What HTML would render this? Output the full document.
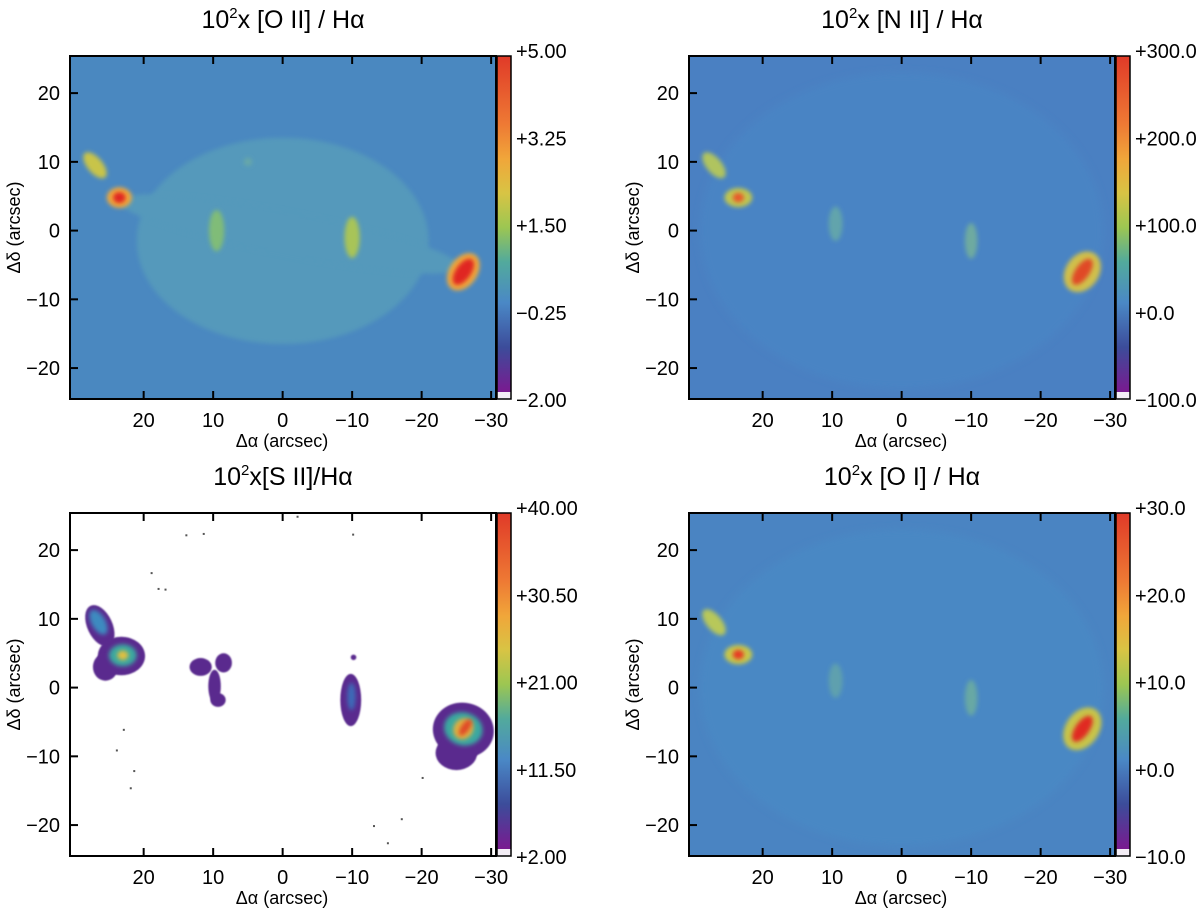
<!DOCTYPE html>
<html><head><meta charset="utf-8"><style>
body{margin:0;background:#fff;}
svg text{font-family:"Liberation Sans",Arial,sans-serif;fill:#000;}
</style></head><body>
<svg id="fig" width="1200" height="913" viewBox="0 0 1200 913" xmlns="http://www.w3.org/2000/svg">
<defs>
<linearGradient id="cmap" x1="0" y1="0" x2="0" y2="1">
<stop offset="0" stop-color="#e03a28"/><stop offset="0.2" stop-color="#ee7a34"/><stop offset="0.3" stop-color="#f0a63a"/><stop offset="0.4" stop-color="#d8c444"/><stop offset="0.5" stop-color="#9cc652"/><stop offset="0.6" stop-color="#52aa9c"/><stop offset="0.72" stop-color="#4a88c6"/><stop offset="0.85" stop-color="#3c4c9a"/><stop offset="0.98" stop-color="#7a1a90"/><stop offset="0.98" stop-color="#f4eef6"/><stop offset="1" stop-color="#f4eef6"/>
</linearGradient>
<filter id="b1" x="-50%" y="-50%" width="200%" height="200%"><feGaussianBlur stdDeviation="4"/></filter>
<filter id="b2" x="-50%" y="-50%" width="200%" height="200%"><feGaussianBlur stdDeviation="2"/></filter>
<filter id="b0" x="-50%" y="-50%" width="200%" height="200%"><feGaussianBlur stdDeviation="0.8"/></filter>
</defs>
</svg>
<script>
// ----- data -----
const panelTitles = ["[O II] / H\u03b1", "[N II] / H\u03b1", "[S II]/H\u03b1", "[O I] / H\u03b1"];
const cbarLabels = [
  ["+5.00","+3.25","+1.50","\u22120.25","\u22122.00"],
  ["+300.0","+200.0","+100.0","+0.0","\u2212100.0"],
  ["+40.00","+30.50","+21.00","+11.50","+2.00"],
  ["+30.0","+20.0","+10.0","+0.0","\u221210.0"]
];
const xTicks = [20, 10, 0, -10, -20, -30];
const yTicks = [20, 10, 0, -10, -20];
const bgColors = ["#4a88c0", "#4a80c2", "#ffffff", "#4a84c2"];
// knots: [alpha, delta, rx, ry, rot, color]
const knotsA = [[0,-1.5,21,15,0,"#5499bb"],[-1,-0.5,25,3.2,11,"#5499bb"],[27,9.5,1.1,2.3,-40,"#c8c44a"],[23.5,4.8,1.8,1.5,0,"#f0a83a"],[23.5,4.8,0.9,0.8,0,"#e02820"],
  [9.5,0,1.1,3,0,"#80bc78"],[-10,-1,1.1,3,0,"#a8c458"],[-26,-6,2.0,3,35,"#f0a83a"],[-26,-6,1.1,2.2,35,"#e02820"],[5,10,0.6,0.6,0,"#68a8a8"]];
const knotsB = [[0,0,29,23,0,"#4a84c4"],[27,9.5,1.1,2.3,-40,"#b0c45e"],[23.5,4.8,2.0,1.4,0,"#c0c650"],[23.5,4.8,0.8,0.7,0,"#e85a2a"],
  [9.5,1,1,2.5,0,"#62a4ac"],[-10,-1.5,0.9,2.6,0,"#6eaaa0"],[-26,-6,2.4,3.2,35,"#d0c04c"],[-26,-6,1.0,2.2,35,"#e04a26"]];
const knotsD = [[0,0,29,23,0,"#4a88c4"],[27,9.5,1.1,2.3,-40,"#b8c85a"],[23.5,4.8,2.0,1.4,0,"#c8c84a"],[23.5,4.8,0.8,0.7,0,"#e83a24"],
  [9.5,1,1,2.5,0,"#5ea0ae"],[-10,-1.5,0.9,2.6,0,"#68a8a4"],[-26,-6,2.4,3.4,35,"#c8c44a"],[-26,-6,1.0,2.2,35,"#e02c22"]];
// [S II] regions: [alpha, delta, rx, ry, rot, color]
const regionsC = [[26.3,9,1.8,3.2,-25,"#5a2a8e"],[23.2,4.6,3.4,2.8,0,"#5a2a8e"],[25.5,3,1.8,2,0,"#5a2a8e"],
  [11.8,3,1.6,1.3,0,"#5a2a8e"],[8.5,3.6,1.2,1.4,0,"#5a2a8e"],[9.8,0.2,0.9,2.4,0,"#5a2a8e"],[9.3,-1.8,1.1,1,0,"#5a2a8e"],
  [-9.8,-1.8,1.5,3.8,0,"#5a2a8e"],[-10.2,4.4,0.4,0.4,0,"#5a2a8e"],[-26,-6.2,4.4,4,10,"#5a2a8e"],[-25,-9.5,3,2.5,0,"#5a2a8e"]];
const coresC = [[26.5,9.5,1,2,-30,"#3c8ac0"],[23,4.7,2,1.6,0,"#3aa8a0"],[23,4.7,0.8,0.7,0,"#e0c040"],[-9.9,-1.3,0.6,2,0,"#3c6ab8"],
  [-26,-6,2.8,2.4,15,"#3aa8a0"],[-26,-6,1.4,1.6,35,"#e0b040"],[-26.3,-5.8,0.6,1.4,35,"#e04a26"]];
const specksC = [[18,14.5],[17,14.4],[19,16.8],[11.5,22.5],[14,22.3],[-10,22.4],[23,-6],[24,-9],[21.5,-12],[22,-14.5],[-15,-22.5],[-13,-20],[-17,-19],[-20,-13],[-2,25]];
const panels = [{x:70,y:56,k:knotsA},{x:689,y:56,k:knotsB},{x:70,y:513,k:regionsC},{x:689,y:513,k:knotsD}];
const PW = 426, PH = 343;

const svg = document.getElementById('fig');
const NS = 'http://www.w3.org/2000/svg';
function mk(tag, attrs, parent){const e=document.createElementNS(NS,tag);for(const k in attrs)e.setAttribute(k,attrs[k]);(parent||svg).appendChild(e);return e;}

panels.forEach((p, i) => {
  const X = a => p.x + (30.6 - a) * PW / 61.3;
  const Y = d => p.y + (25.4 - d) * PH / 49.9;
  const sx = PW / 61.3, sy = PH / 49.9;
  const g = mk('g', {});
  
  
  const clipId = 'clip' + i;
  const cp = mk('clipPath', {id: clipId}, g); mk('rect', {x:p.x, y:p.y, width:PW, height:PH}, cp);
  const bg = mk('rect', {x:p.x, y:p.y, width:PW, height:PH, fill:bgColors[i]}, g);
  
  
  const img = mk('g', {'clip-path':'url(#'+clipId+')'}, g);
  const drawList = (list, filt) => list.forEach((k, j) => {
    const e = mk('ellipse', {cx:X(k[0]), cy:Y(k[1]), rx:k[2]*sx, ry:k[3]*sy, fill:k[5], filter:'url(#'+filt+')',
      transform:'rotate('+k[4]+' '+X(k[0])+' '+Y(k[1])+')'}, img);
    
    
  });
  if (i === 2) {
    drawList(regionsC, 'b0');
    drawList(coresC, 'b2');
    specksC.forEach(s => {
      const r = mk('rect', {x:X(s[0]), y:Y(s[1]), width:2, height:2, fill:'#555'}, img);
      
      
    });
  } else if (i === 0) {
    drawList(p.k.slice(0,2), 'b2');
    drawList(p.k.slice(2), 'b2');
  } else {
    drawList(p.k.slice(0,1), 'b1');
    drawList(p.k.slice(1), 'b2');
  }
  // frame
  mk('rect', {x:p.x, y:p.y, width:PW, height:PH, fill:'none', stroke:'#000', 'stroke-width':2}, g);
  xTicks.forEach(t => {
    mk('line', {x1:X(t), x2:X(t), y1:p.y+PH, y2:p.y+PH-8, stroke:'#000','stroke-width':2}, g);
    mk('line', {x1:X(t), x2:X(t), y1:p.y, y2:p.y+8, stroke:'#000','stroke-width':2}, g);
    const tx = mk('text', {x:X(t), y:p.y+PH+28, 'font-size':20, 'text-anchor':'middle'}, g);
    tx.textContent = t < 0 ? '\u2212' + (-t) : String(t);
    
    
  });
  yTicks.forEach(t => {
    mk('line', {x1:p.x, x2:p.x+8, y1:Y(t), y2:Y(t), stroke:'#000','stroke-width':2}, g);
    const ty = mk('text', {x:p.x-10, y:Y(t)+7, 'font-size':20, 'text-anchor':'end'}, g);
    ty.textContent = t < 0 ? '\u2212' + (-t) : String(t);
    
    
  });
  const xl = mk('text', {x:p.x+212, y:p.y+PH+48, 'font-size':18, 'text-anchor':'middle'}, g);
  xl.textContent = '\u0394\u03b1 (arcsec)';
  
  
  const yx = p.x - 50, yy = p.y + PH/2;
  const yl = mk('text', {x:yx, y:yy, 'font-size':18, 'text-anchor':'middle', transform:'rotate(-90 '+yx+' '+yy+')'}, g);
  yl.textContent = '\u0394\u03b4 (arcsec)';
  
  
  const tt = mk('text', {x:p.x+213, y:p.y-28, 'font-size':25, 'text-anchor':'middle'}, g);
  tt.innerHTML = '10<tspan dy="-10" font-size="15">2</tspan><tspan dy="10">' + (i===2 ? 'x' : 'x ') + panelTitles[i] + '</tspan>';
  
  
  // colorbar
  const cb = mk('rect', {x:p.x+PW+1, y:p.y, width:14, height:PH, fill:'url(#cmap)', stroke:'#000', 'stroke-width':1.5}, g);
  
  
  cbarLabels[i].forEach((lab, j) => {
    const ct = mk('text', {x:p.x+PW+20, y:p.y - 6 + j*(PH+6)/4 + 8, 'font-size':20}, g);
    ct.textContent = lab;
    
    
  });
});
</script>
</body></html>
